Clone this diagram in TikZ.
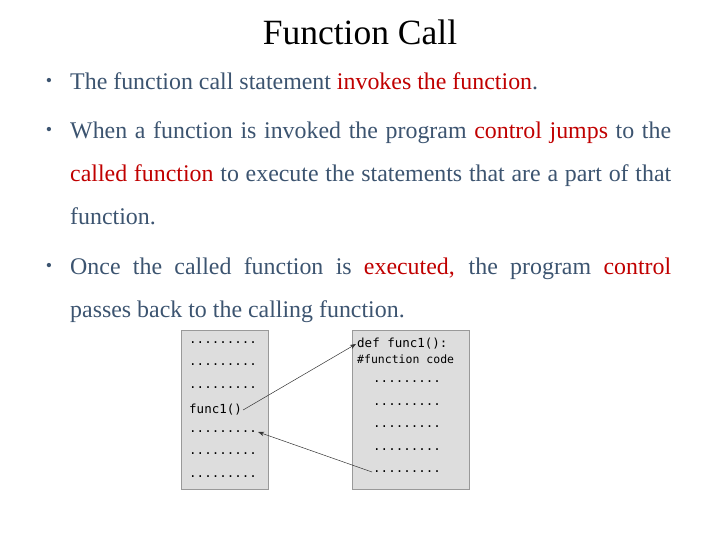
\documentclass[tikz,border=0pt]{standalone}
\usepackage{fontspec}
\setmainfont{Liberation Serif}
\setmonofont{DejaVu Sans Mono}
\usetikzlibrary{positioning,arrows.meta}
\definecolor{body}{RGB}{60,84,112}
\definecolor{hilite}{RGB}{192,0,0}
\definecolor{codebg}{RGB}{221,221,221}
\tikzset{
  para/.style={anchor=north west, inner sep=0pt, text width=601pt, align=justify,
    font=\fontsize{23.9}{43}\selectfont, text=body},
  codebox/.style={draw=gray!80, fill=codebg, line width=0.6pt},
  codeline/.style={font=\ttfamily\fontsize{12.5}{13}\selectfont, inner sep=1pt, anchor=west},
  jump/.style={-{Stealth[length=6pt]}, line width=0.5pt, black!80}
}
\newcommand{\hl}[1]{\textcolor{hilite}{#1}}
\begin{document}
\begin{tikzpicture}[x=1pt,y=-1pt]
  \useasboundingbox (0,0) rectangle (720,540);
  \node[font=\fontsize{35.5}{40}\selectfont, anchor=base] (title) at (360,45) {Function Call};
  % bullets
  \node[para] (b1) at (70,72) {The function call statement \hl{invokes the function}.};
  \node[para] (b2) at (70,121) {When a function is invoked the program \hl{control jumps} to the\linebreak
    \hl{called function} to execute the statements that are a part of that\linebreak
    function.};
  \node[para] (b3) at (70,257) {Once the called function is \hl{executed,} the program \hl{control}\linebreak
    passes back to the calling function.};
  \foreach \y/\n in {82/d1,131/d2,267/d3}
    \node[text=body, font=\fontsize{18}{20}\selectfont] (\n) at (49,\y) {\textbullet};
  % code boxes
  \draw[codebox] (181,330) rectangle (268,489);
  \draw[codebox] (352,330) rectangle (469,489);
  \foreach \y/\i in {343/1,365/2,388/3,432/5,454/6,477/7}
    \node[codeline] (l\i) at (188,\y) {.........};
  \node[codeline] (call) at (188,410) {func1()};
  \node[codeline] (def) at (356,344) {def func1():};
  \node[codeline, font=\ttfamily\fontsize{11.5}{13}\selectfont] (hash) at (356,359) {\#function code};
  \foreach \y [count=\i] in {382,405,427,450,472}
    \node[codeline] (r\i) at (372,\y) {.........};
  \draw[jump] (call.east) -- (def.west);
  \draw[jump] (r5.west) -- (l5.east);
\end{tikzpicture}
\end{document}
